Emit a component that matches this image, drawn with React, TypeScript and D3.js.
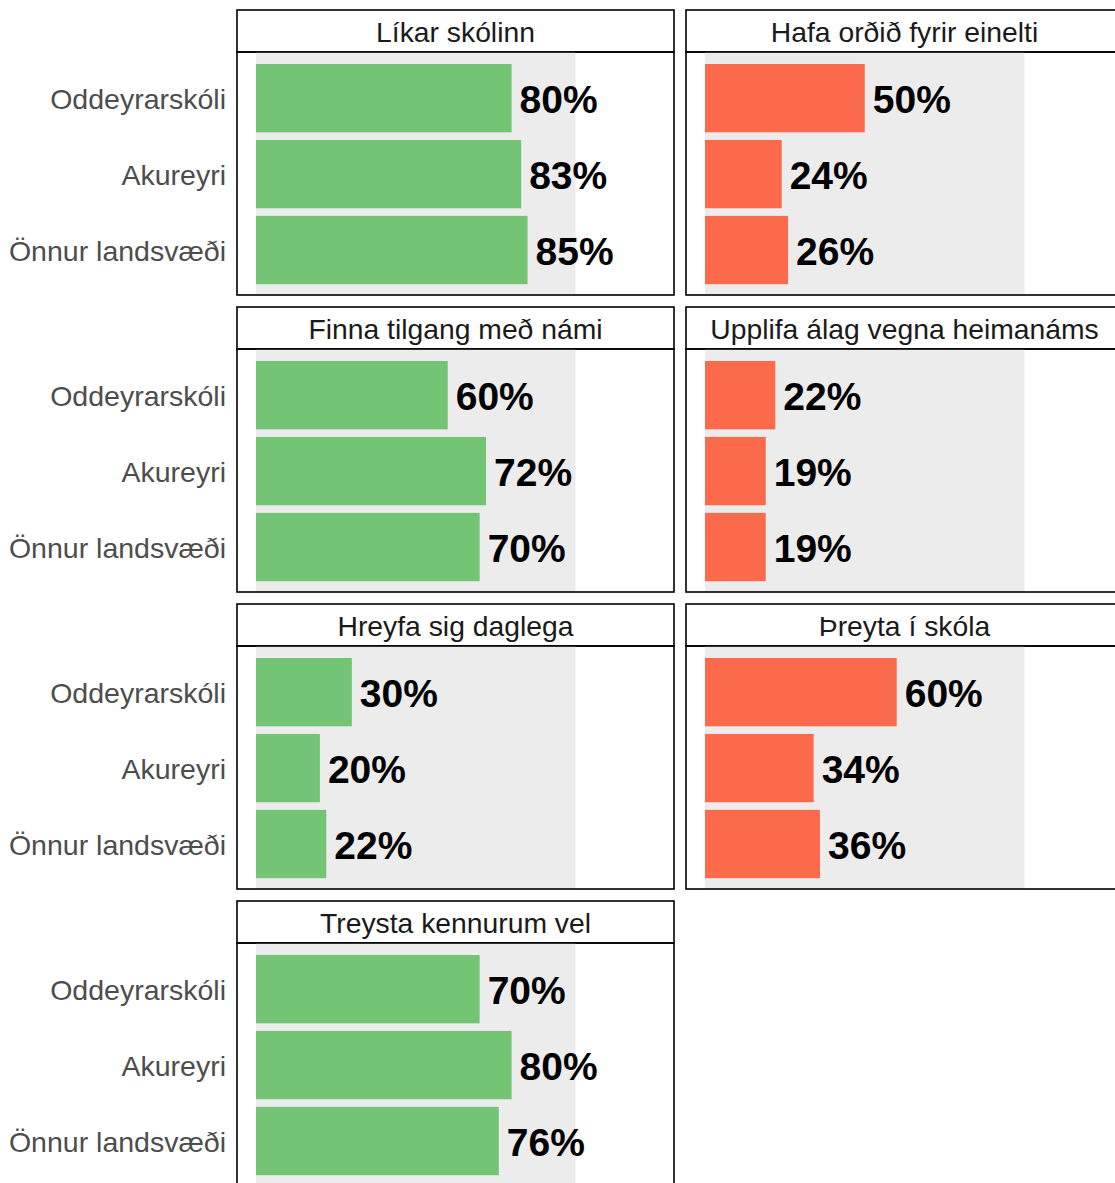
import * as d3 from 'd3';

const GROUPS = ['Oddeyrarskóli', 'Akureyri', 'Önnur landsvæði'];

const PANEL_TITLES = [
  'Líkar skólinn',
  'Hafa orðið fyrir einelti',
  'Finna tilgang með námi',
  'Upplifa álag vegna heimanáms',
  'Hreyfa sig daglega',
  'Þreyta í skóla',
  'Treysta kennurum vel',
];

// 'pos' = green, 'neg' = red
const PANEL_KIND = ['pos', 'neg', 'pos', 'neg', 'pos', 'neg', 'pos'];

const PANEL_VALUES = [
  [0.8, 0.83, 0.85],
  [0.5, 0.24, 0.26],
  [0.6, 0.72, 0.7],
  [0.22, 0.19, 0.19],
  [0.3, 0.2, 0.22],
  [0.6, 0.34, 0.36],
  [0.7, 0.8, 0.76],
];

const COLORS = { pos: '#74C476', neg: '#FB6A4A' };

const W = 1115;
const H = 1183;
const FONT = '"Liberation Sans", Arial, Helvetica, sans-serif';

// layout
const col0 = 237;
const colStep = 449;
const panelW = 437;
const row0 = 10;
const rowStep = 297;
const stripH = 42;
const panelH = 243;
const leftPad = 19;
const unitW = 319.5;

function Panel({ idx }: { idx: number }) {
  const c = idx % 2;
  const r = Math.floor(idx / 2);
  const px = col0 + c * colStep;
  const sy = row0 + r * rowStep;
  const py = sy + stripH;

  const x = d3.scaleLinear().domain([0, 1]).range([px + leftPad, px + leftPad + unitW]);
  const y = d3.scalePoint<string>().domain(GROUPS).range([py + 0.6, py + panelH + 0.6]).padding(0.6);
  const barH = y.step() * 0.9;
  const fill = COLORS[PANEL_KIND[idx] as 'pos' | 'neg'];
  const vals = PANEL_VALUES[idx];

  return (
    <g>
      {/* strip */}
      <rect x={px} y={sy} width={panelW} height={stripH} fill="#fff" stroke="#000" strokeWidth={1.6} />
      <text
        x={px + panelW / 2}
        y={sy + stripH / 2 + 1}
        textAnchor="middle"
        dominantBaseline="central"
        fontSize={28.3}
        fill="#1A1A1A"
        fontFamily={FONT}
      >
        {PANEL_TITLES[idx]}
      </text>

      {/* panel background band 0..100% */}
      <rect x={x(0)} y={py} width={x(1) - x(0)} height={panelH} fill="#ECECEC" />

      {GROUPS.map((g, i) => {
        const cy = y(g) as number;
        return (
          <g key={g}>
            <rect x={x(0)} y={cy - barH / 2} width={x(vals[i]) - x(0)} height={barH} fill={fill} />
            <text
              x={x(vals[i]) + 8}
              y={cy + 1}
              dominantBaseline="central"
              fontSize={39}
              fontWeight="bold"
              fill="#000"
              fontFamily={FONT}
            >
              {d3.format('.0%')(vals[i])}
            </text>
          </g>
        );
      })}

      {/* y axis labels, only left column */}
      {c === 0 &&
        GROUPS.map((g) => (
          <text
            key={g}
            x={px - 11}
            y={(y(g) as number) + 1}
            textAnchor="end"
            dominantBaseline="central"
            fontSize={28.5}
            fill="#4D4D4D"
            fontFamily={FONT}
          >
            {g}
          </text>
        ))}

      <rect x={px} y={py} width={panelW} height={panelH} fill="none" stroke="#000" strokeWidth={1.6} />
    </g>
  );
}

export default function App() {
  return (
    <svg
      width={W}
      height={H}
      viewBox={`0 0 ${W} ${H}`}
      style={{ position: 'absolute', left: 0, top: 0, background: '#fff' }}
    >
      <rect width={W} height={H} fill="#fff" />
      {PANEL_TITLES.map((_, i) => (
        <Panel key={i} idx={i} />
      ))}
    </svg>
  );
}
